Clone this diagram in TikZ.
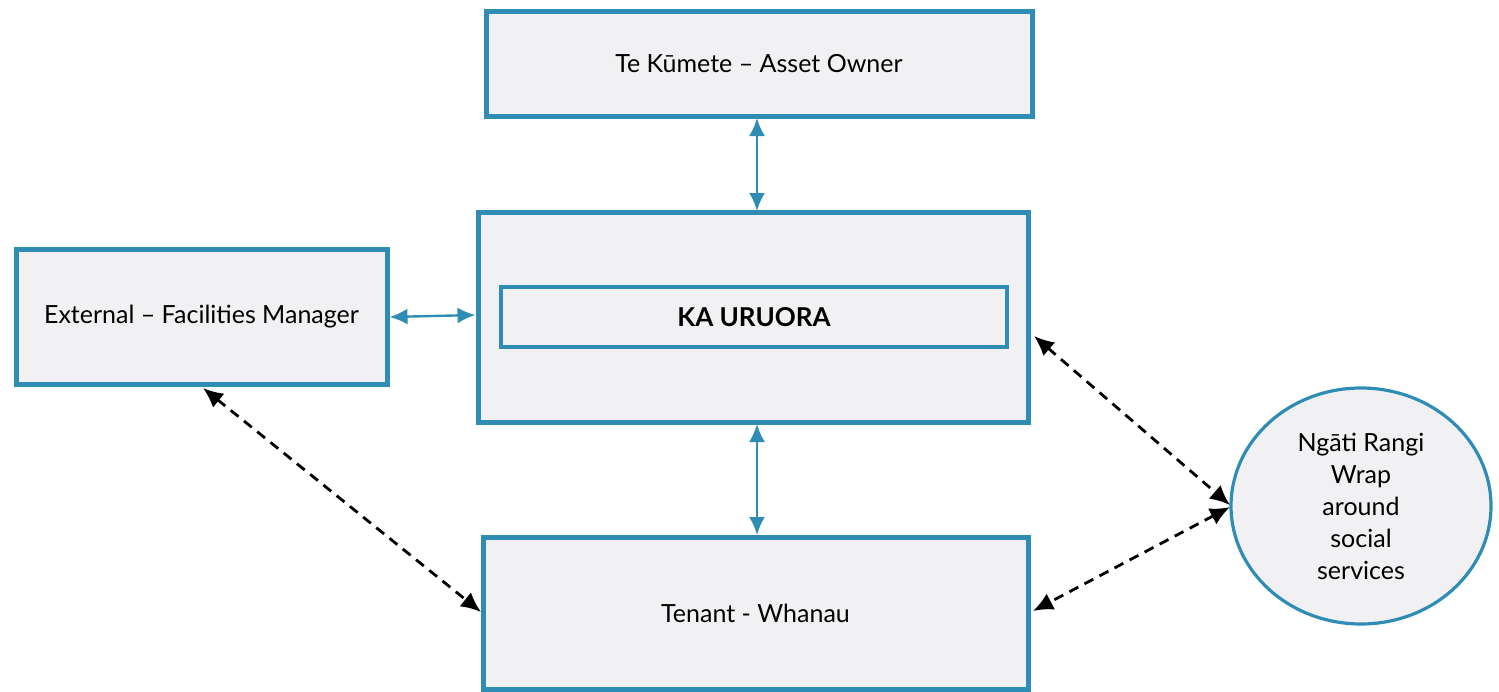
\documentclass[tikz,border=0pt]{standalone}
\usepackage{fontspec}
\setmainfont{Lato}
\usetikzlibrary{arrows.meta,shapes.geometric}
\definecolor{boxblue}{HTML}{2F8DB5}
\definecolor{boxfill}{HTML}{F1F1F3}
\tikzset{
  box/.style={draw=boxblue,line width=2.5pt,fill=boxfill,inner sep=0pt,font=\fontsize{12.5}{15}\selectfont},
  innerbox/.style={draw=boxblue,line width=2.2pt,fill=boxfill,inner sep=0pt,font=\bfseries\fontsize{13}{15}\selectfont},
  ellbox/.style={draw=boxblue,line width=1.6pt,fill=boxfill,ellipse,inner sep=0pt,align=center,font=\fontsize{12.5}{16}\selectfont},
  solidarrow/.style={draw=boxblue,line width=1.2pt,{Latex[length=9pt,width=8pt]}-{Latex[length=9pt,width=8pt]}},
  dasharrow/.style={draw=black,line width=1.4pt,dash pattern=on 5pt off 3.5pt,{Latex[length=10pt,width=9pt]}-{Latex[length=10pt,width=9pt]}}
}
\begin{document}
\begin{tikzpicture}[x=0.5pt,y=-0.5pt]
\useasboundingbox (0,0) rectangle (1499,691);
\node[box,minimum width=273pt,minimum height=52.5pt] (owner) at (759,63.5) {Te Kūmete – Asset Owner};
\node[box,minimum width=275pt,minimum height=105pt] (ka) at (753,317) {};
\node[innerbox,minimum width=253pt,minimum height=30pt] (kain) at (754,317) {KA URUORA};
\node[box,minimum width=185.5pt,minimum height=67.5pt] (ext) at (201.5,316.5) {External – Facilities Manager};
\node[box,minimum width=272.5pt,minimum height=76pt] (tenant) at (755.5,613) {Tenant - Whanau};
\node[ellbox,minimum width=130pt,minimum height=118pt] (ngati) at (1361,506) {Ngāti Rangi\\Wrap\\around\\social\\services};
\coordinate (ot) at (757,118);
\coordinate (kt) at (757,211);
\coordinate (kb) at (757,424);
\coordinate (tt) at (757,535);
\draw[solidarrow] (ot) -- (kt);
\draw[solidarrow] (kb) -- (tt);
\draw[solidarrow] (ext.east |- 0,317) -- (ka.west |- 0,315);
\coordinate (e1) at (203,388);
\coordinate (t1) at (481,612);
\coordinate (k1) at (1034,336);
\coordinate (n1) at (1230,505);
\coordinate (n2) at (1230,507);
\coordinate (t2) at (1033,611);
\draw[dasharrow] (e1) -- (t1);
\draw[dasharrow] (k1) -- (n1);
\draw[dasharrow] (n2) -- (t2);
\end{tikzpicture}
\end{document}
